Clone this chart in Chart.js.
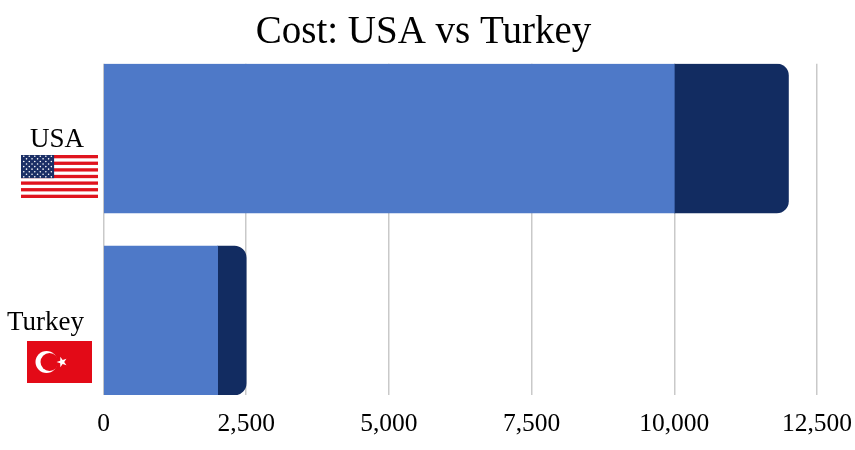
<!DOCTYPE html>
<html>
<head>
<meta charset="utf-8">
<title>Cost: USA vs Turkey</title>
<script src="https://cdn.jsdelivr.net/npm/chart.js@4"></script>
<style>
  html, body { margin: 0; padding: 0; background: #fff; }
  canvas { display: block; }
</style>
</head>
<body>
<canvas id="grafico" width="855" height="450"></canvas>
<script>
const paises = ['USA', 'Turkey'];
const costoBase = [10000, 2000];
const costoExtra = [2000, 500];
const marcasX = [0, 2500, 5000, 7500, 10000, 12500];

const fuente = '"Liberation Serif", serif';

function dibujarUSA(ctx, x, y, w, h) {
  const franja = h / 13;
  ctx.fillStyle = '#fff';
  ctx.fillRect(x, y, w, h);
  ctx.fillStyle = '#E0141E';
  for (let i = 0; i < 13; i += 2) ctx.fillRect(x, y + i * franja, w, franja);
  const anchoC = w * 0.43, altoC = franja * 7;
  ctx.fillStyle = '#1B2F66';
  ctx.fillRect(x, y, anchoC, altoC);
  ctx.fillStyle = '#fff';
  for (let f = 0; f < 9; f++) {
    const n = f % 2 ? 5 : 6;
    for (let c = 0; c < n; c++) {
      const sx = x + anchoC * ((c + (f % 2 ? 1 : 0.5)) / 6);
      const sy = y + altoC * ((f + 0.5) / 9);
      ctx.beginPath();
      ctx.arc(sx, sy, 0.8, 0, Math.PI * 2);
      ctx.fill();
    }
  }
}

function dibujarTurquia(ctx, x, y, w, h) {
  ctx.fillStyle = '#E30A17';
  ctx.fillRect(x, y, w, h);
  const cy = y + h / 2;
  ctx.fillStyle = '#fff';
  ctx.beginPath();
  ctx.arc(x + 19.5, cy, 11, 0, Math.PI * 2);
  ctx.fill();
  ctx.fillStyle = '#E30A17';
  ctx.beginPath();
  ctx.arc(x + 22.5, cy, 9, 0, Math.PI * 2);
  ctx.fill();
  // estrella
  ctx.fillStyle = '#fff';
  const ex = x + 35, ey = cy;
  ctx.beginPath();
  for (let i = 0; i < 10; i++) {
    const r = i % 2 ? 2.2 : 5.5;
    const a = -Math.PI + i * Math.PI / 5;
    ctx.lineTo(ex + r * Math.cos(a), ey + r * Math.sin(a));
  }
  ctx.closePath();
  ctx.fill();
}

const banderas = {
  id: 'banderas',
  afterDraw(chart) {
    const ctx = chart.ctx;
    ctx.save();
    dibujarUSA(ctx, 21, 155, 77, 43);
    dibujarTurquia(ctx, 27, 341, 65, 42);
    ctx.restore();
  }
};

new Chart(document.getElementById('grafico'), {
  type: 'bar',
  data: {
    datasets: [
      {
        label: 'Base',
        data: costoBase.map((v, i) => ({ x: v, y: i })),
        backgroundColor: '#4E79C8',
        barThickness: 149
      },
      {
        label: 'Extra',
        data: costoExtra.map((v, i) => ({ x: v, y: i })),
        backgroundColor: '#122C61',
        barThickness: 149,
        borderRadius: { topRight: 12, bottomRight: 12, topLeft: 0, bottomLeft: 0 },
        borderSkipped: false
      }
    ]
  },
  options: {
    indexAxis: 'y',
    responsive: false,
    animation: false,
    layout: { padding: { left: 0, right: 8, top: 0, bottom: 0 } },
    plugins: {
      legend: { display: false },
      tooltip: { enabled: false },
      title: {
        display: true,
        text: 'Cost: USA vs Turkey',
        color: '#000',
        font: { family: fuente, size: 39, weight: 'normal' },
        padding: { top: 9, bottom: 8 }
      }
    },
    scales: {
      x: {
        stacked: true,
        min: 0,
        max: 12500,
        afterBuildTicks(eje) { eje.ticks = marcasX.map(v => ({ value: v })); },
        afterFit(eje) { eje.height = 55; eje.paddingRight = 38; eje.paddingLeft = 0; },
        border: { display: false },
        grid: { color: '#C9C9C9', lineWidth: 1.5, drawTicks: false },
        ticks: {
          color: '#000',
          padding: 14,
          maxRotation: 0,
          font: { family: fuente, size: 25.5 },
          callback: v => v.toLocaleString('en-US')
        }
      },
      y: {
        type: 'linear',
        reverse: true,
        stacked: true,
        offset: false,
        min: -0.409,
        max: 1.409,
        afterBuildTicks(eje) { eje.ticks = paises.map((p, i) => ({ value: i })); },
        afterFit(eje) { eje.width = 103.5; eje.paddingTop = 0; eje.paddingBottom = 0; },
        border: { display: false },
        grid: { display: false },
        ticks: {
          color: '#000',
          padding: 11.5,
          autoSkip: false,
          labelOffset: 2,
          font: { family: fuente, size: 27 },
          callback: v => paises[v]
        }
      }
    }
  },
  plugins: [banderas]
});
</script>
</body>
</html>
